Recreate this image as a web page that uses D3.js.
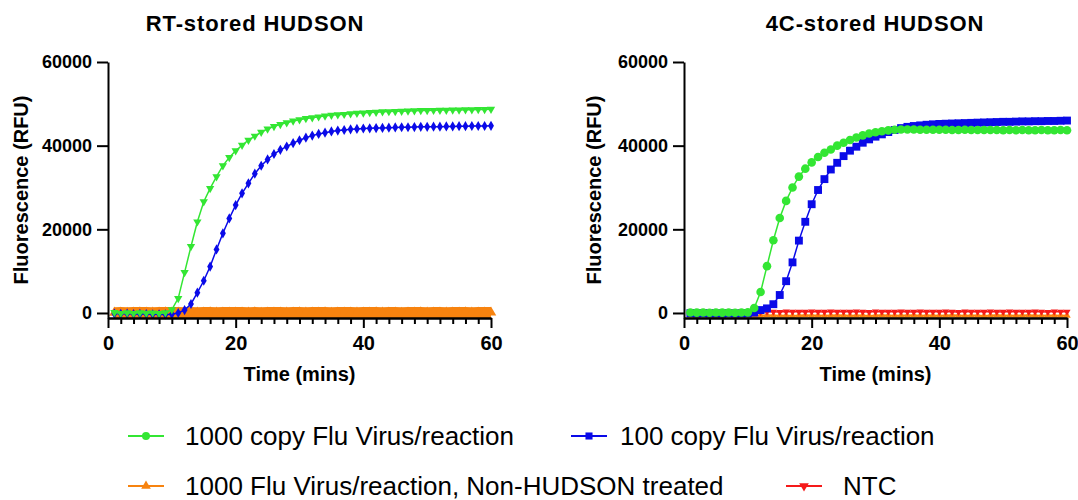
<!DOCTYPE html>
<html>
<head>
<meta charset="utf-8">
<script src="https://cdn.jsdelivr.net/npm/d3@7"></script>
<style>
  body { margin: 0; background: #fff; }
  svg { display: block; font-family: "Liberation Sans", Arial, Helvetica, sans-serif; }
</style>
</head>
<body>
<svg id="chart" width="1078" height="500"></svg>
<script>
// time points (mins)
const minutes = [1,2,3,4,5,6,7,8,9,10,11,12,13,14,15,16,17,18,19,20,
  21,22,23,24,25,26,27,28,29,30,31,32,33,34,35,36,37,38,39,40,
  41,42,43,44,45,46,47,48,49,50,51,52,53,54,55,56,57,58,59,60];

// RT-stored HUDSON
const rtGreen = [120,-80,60,-120,90,-60,40,-100,80,800,
  3500,9700,15900,21800,26600,29800,32600,35200,37200,38800,
  40100,41300,42300,43200,44000,44600,45100,45500,45900,46200,
  46500,46700,46900,47100,47300,47400,47500,47650,47750,47850,
  47950,48000,48100,48150,48200,48250,48300,48350,48400,48400,
  48450,48500,48500,48550,48550,48600,48600,48650,48650,48700];
const rtBlue = [-150,-200,-150,-250,-200,-250,-300,-300,-350,-300,
  0,700,2150,4850,7700,11100,15200,19050,22600,25800,
  28600,31000,33300,35200,36700,38000,39000,39800,40600,41300,
  41900,42400,42800,43100,43400,43600,43750,43900,44000,44100,
  44150,44200,44250,44300,44350,44400,44400,44450,44500,44500,
  44550,44550,44600,44600,44650,44650,44700,44700,44700,44750];
const rtOrange = [80,120,60,100,140,90,70,110,130,100,
  90,60,120,80,100,140,70,110,90,120,
  100,80,130,60,110,90,120,70,100,140,
  80,110,90,130,60,100,120,90,70,110,
  100,130,80,90,120,60,110,100,140,80,
  90,120,70,100,110,130,80,90,120,100];

// 4C-stored HUDSON
const c4Green = [100,80,120,60,100,90,110,70,100,150,
  1200,5000,11200,17400,22700,26800,30000,32600,34500,36000,
  37300,38300,39100,40000,40700,41350,41950,42450,42900,43200,
  43450,43650,43800,43850,43850,43850,43800,43800,43800,43800,
  43800,43750,43750,43800,43750,43750,43750,43750,43750,43700,
  43750,43700,43750,43700,43700,43750,43700,43700,43750,43700];
const c4Blue = [-50,-100,-80,-120,-100,-150,-100,-120,-150,-100,
  100,700,1100,2100,4300,7600,12100,17300,21800,26000,
  29400,32000,34300,35900,37500,38800,39750,40700,41500,42150,
  42700,43250,43750,44200,44500,44700,44850,45000,45100,45200,
  45250,45300,45350,45400,45450,45500,45550,45600,45650,45700,
  45700,45750,45800,45800,45850,45850,45900,45900,45950,46000];
const c4Orange = [-600,-650,-550,-600,-700,-600,-550,-650,-600,-600,
  -650,-600,-550,-600,-650,-600,-700,-600,-550,-600,
  -600,-650,-600,-550,-600,-650,-600,-600,-700,-600,
  -550,-600,-650,-600,-600,-550,-650,-600,-600,-650,
  -600,-550,-600,-650,-600,-600,-700,-600,-550,-600,
  -650,-600,-600,-550,-600,-650,-600,-600,-650,-600];
const c4Red = [300,250,350,300,280,320,300,260,340,300,
  300,280,320,300,250,350,300,300,280,320,
  300,260,340,300,300,280,320,300,250,350,
  300,300,280,320,300,260,340,300,300,280,
  320,300,250,350,300,300,280,320,300,260,
  340,300,300,280,320,300,250,350,300,300];

const xMajor = [0, 20, 40, 60];
const xMinor = [2,4,6,8,10,12,14,16,18,22,24,26,28,30,32,34,36,38,42,44,46,48,50,52,54,56,58];
const yTicks = [0, 20000, 40000, 60000];

const legendLabels = ['1000 copy Flu Virus/reaction', '100 copy Flu Virus/reaction',
  '1000 Flu Virus/reaction, Non-HUDSON treated', 'NTC'];

const green = '#33e633', blue = '#0a0ae8', orange = '#f7830f', red = '#f51a1a';

const svg = d3.select('#chart');

const plotW = 383, yTop = 62, yBase = 318;
const x = d3.scaleLinear().domain([0, 60]).range([0, plotW]);
const y = d3.scaleLinear().domain([-1200, 60000]).range([yBase, yTop]);

const triDown = 180;

const panels = [
  {
    title: 'RT-stored HUDSON', left: 108, titleX: 255, ylabX: 28,
    series: [
      { values: rtOrange, color: orange, symbol: d3.symbolTriangle, size: 48, rot: 0, lw: 11 },
      { values: rtBlue, color: blue, symbol: d3.symbolDiamond, size: 30, rot: 0, lw: 1.5 },
      { values: rtGreen, color: green, symbol: d3.symbolTriangle, size: 30, rot: triDown, lw: 1.5 }
    ]
  },
  {
    title: '4C-stored HUDSON', left: 684, titleX: 875, ylabX: 601,
    series: [
      { values: c4Orange, color: orange, symbol: d3.symbolTriangle, size: 24, rot: 0, lw: 2 },
      { values: c4Red, color: red, symbol: d3.symbolTriangle, size: 22, rot: triDown, lw: 1.5 },
      { values: c4Blue, color: blue, symbol: d3.symbolSquare, size: 62, rot: 0, lw: 1.5 },
      { values: c4Green, color: green, symbol: d3.symbolCircle, size: 58, rot: 0, lw: 1.5 }
    ]
  }
];

const styleAxis = (sel, fontSize) => {
  sel.selectAll('path, line').attr('stroke', '#000').attr('stroke-width', 2);
  sel.selectAll('text')
    .attr('fill', '#000')
    .style('font-size', fontSize + 'px')
    .style('font-weight', 'bold');
};

panels.forEach(p => {
  const g = svg.append('g').attr('transform', `translate(${p.left},0)`);

  // data first, axes drawn after so they sit on top
  const line = d3.line().x((d, i) => x(minutes[i])).y(d => y(d));
  p.series.forEach(s => {
    g.append('path')
      .datum(s.values)
      .attr('fill', 'none')
      .attr('stroke', s.color)
      .attr('stroke-width', s.lw)
      .attr('d', line);
    g.append('g').selectAll('path')
      .data(s.values)
      .join('path')
      .attr('transform', (d, i) => `translate(${x(minutes[i])},${y(d)}) rotate(${s.rot})`)
      .attr('d', d3.symbol(s.symbol, s.size))
      .attr('fill', s.color);
  });

  // x axis: minor then major ticks
  g.append('g')
    .attr('transform', `translate(0,${yBase})`)
    .call(d3.axisBottom(x).tickValues(xMinor).tickSize(6).tickFormat('').tickSizeOuter(0))
    .call(a => styleAxis(a, 20));
  g.append('g')
    .attr('transform', `translate(0,${yBase})`)
    .call(d3.axisBottom(x).tickValues(xMajor).tickSize(10).tickPadding(8).tickSizeOuter(0))
    .call(a => styleAxis(a, 20));

  // y axis
  g.append('g')
    .call(d3.axisLeft(y).tickValues(yTicks).tickSize(11).tickPadding(5).tickSizeOuter(0).tickFormat(d3.format('d')))
    .call(a => styleAxis(a, 18));

  // titles
  svg.append('text')
    .attr('x', p.titleX).attr('y', 31)
    .attr('text-anchor', 'middle')
    .style('font-size', '22px').style('font-weight', 'bold')
    .style('letter-spacing', '0.9px')
    .text(p.title);

  svg.append('text')
    .attr('x', p.left + plotW / 2).attr('y', 381)
    .attr('text-anchor', 'middle')
    .style('font-size', '20px').style('font-weight', 'bold')
    .text('Time (mins)');

  svg.append('text')
    .attr('transform', `translate(${p.ylabX},190) rotate(-90)`)
    .attr('text-anchor', 'middle')
    .style('font-size', '20px').style('font-weight', 'bold')
    .text('Fluorescence (RFU)');
});

// legend
const legendItems = [
  { label: legendLabels[0], color: green, symbol: d3.symbolCircle, size: 50, rot: 0, lx: 128, tx: 185, ly: 436 },
  { label: legendLabels[1], color: blue, symbol: d3.symbolSquare, size: 50, rot: 0, lx: 571, tx: 620, ly: 436 },
  { label: legendLabels[2], color: orange, symbol: d3.symbolTriangle, size: 40, rot: 0, lx: 128, tx: 185, ly: 486 },
  { label: legendLabels[3], color: red, symbol: d3.symbolTriangle, size: 40, rot: triDown, lx: 786, tx: 843, ly: 486 }
];

const lg = svg.append('g').selectAll('g')
  .data(legendItems)
  .join('g');

lg.append('line')
  .attr('x1', d => d.lx).attr('x2', d => d.lx + 36)
  .attr('y1', d => d.ly).attr('y2', d => d.ly)
  .attr('stroke', d => d.color).attr('stroke-width', 2);
lg.append('path')
  .attr('transform', d => `translate(${d.lx + 18},${d.ly}) rotate(${d.rot})`)
  .attr('d', d => d3.symbol(d.symbol, d.size)())
  .attr('fill', d => d.color);
lg.append('text')
  .attr('x', d => d.tx).attr('y', d => d.ly)
  .attr('dy', '0.36em')
  .style('font-size', '26px')
  .attr('fill', '#000')
  .text(d => d.label);
</script>
</body>
</html>
